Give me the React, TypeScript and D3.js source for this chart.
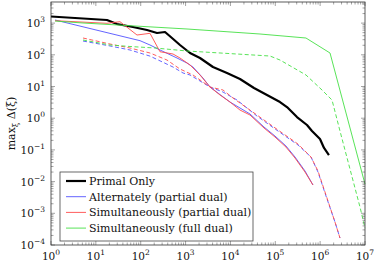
import React from 'react'
import * as d3 from 'd3'

// values (x = iterations, y = max gap)
const primalOnly: [number, number][] = [
  [1, 1615], [17.7, 1253], [29.6, 938], [67, 753], [138, 606], [231, 488],
  [348, 524], [498, 339], [751, 204], [1256, 114], [2096, 79.3], [4083, 41.2],
  [8380, 26.7], [16330, 17.3], [33500, 8.97], [65300, 5.4], [127400, 3.24],
  [182400, 2.25], [304600, 1.09], [509000, 0.61], [658000, 0.394],
  [992000, 0.221], [1.22e6, 0.115], [1.57e6, 0.069],
]

const alternatePartial: [number, number][] = [
  [1.23, 1253], [96.4, 279], [161, 204], [269, 142], [644, 79.3], [1076, 55.1],
  [1463, 41.2], [2445, 18.5], [3501, 9.64], [9772, 3.24], [27300, 1.36],
  [56000, 0.527], [98400, 0.274], [173000, 0.133], [275000, 0.0597],
  [459600, 0.0216], [692000, 0.00781],
]

const simultPartial: [number, number][] = [
  [1.23, 1191], [17.7, 986], [34.5, 1107], [82.6, 421], [161, 477], [269, 125],
  [525, 106], [751, 79.3], [1256, 47.6], [2096, 23.1], [3501, 9.64],
  [5853, 5.4], [9772, 3.24], [16330, 1.81], [27300, 1.26], [56000, 0.491],
  [98400, 0.255], [173000, 0.123], [275000, 0.0555], [459600, 0.0201],
  [692000, 0.00781],
]

const simultFull: [number, number][] = [
  [1.23, 1164], [5.17, 1007], [1076, 652], [45600, 453], [483000, 339],
  [1.66e6, 114], [1e7, 0.0083],
]

const alternatePartialDashed: [number, number][] = [
  [5.17, 272], [20.7, 190], [57.7, 142], [161, 91], [525, 41.2], [877, 26.7],
  [1256, 23.1], [3501, 9.64], [6827, 6.7], [14000, 3.75], [39100, 1.17],
  [115000, 0.394], [320900, 0.143], [625000, 0.0597], [895000, 0.0201],
  [1.35e6, 0.00352], [2.14e6, 5.32e-4], [2.77e6, 1.66e-4],
]

const simultPartialDashed: [number, number][] = [
  [5.17, 339], [20.7, 219], [57.7, 164], [161, 114], [385, 68.5], [751, 35.6],
  [1463, 23.1], [3501, 9.64], [6827, 7.76], [11400, 4.34], [23400, 2.1],
  [39100, 1.26], [115000, 0.425], [320900, 0.153], [625000, 0.0597],
  [895000, 0.0216], [1.35e6, 0.00378], [2.14e6, 5.32e-4], [2.77e6, 1.66e-4],
]

const simultFullDashed: [number, number][] = [
  [5.17, 293], [20.7, 204], [57.7, 183], [208, 164], [1076, 132], [76200, 91.6],
  [127400, 68.5], [483000, 23.1], [1.1e6, 7.76], [1.84e6, 3.75],
  [2.77e6, 0.394], [7.73e6, 0.00158], [1e7, 3.4e-4],
]

const legendLabels = [
  'Primal Only',
  'Alternately (partial dual)',
  'Simultaneously (partial dual)',
  'Simultaneously (full dual)',
]

const BLUE = '#5252ff'
const RED = '#ff4a4a'
const GREEN = '#45e045'

const series = [
  { data: primalOnly, color: '#000', width: 2.2, dash: undefined },
  { data: alternatePartial, color: BLUE, width: 0.9, dash: undefined },
  { data: simultPartial, color: RED, width: 0.9, dash: undefined },
  { data: simultFull, color: GREEN, width: 0.9, dash: undefined },
  { data: alternatePartialDashed, color: BLUE, width: 0.9, dash: '4,2.5' },
  { data: simultPartialDashed, color: RED, width: 0.9, dash: '4,2.5' },
  { data: simultFullDashed, color: GREEN, width: 0.9, dash: '4,2.5' },
]

const W = 374
const H = 262
const left = 51, right = 365, top = 2, bottom = 245
const FONT = 'DejaVu Serif, Liberation Serif, serif'

const isMajor = (v: number) => Math.abs(Math.log10(v) - Math.round(Math.log10(v))) < 1e-9

const expLabel = (v: number) => {
  const e = Math.round(Math.log10(v))
  return e < 0 ? '\u2212' + Math.abs(e) : String(e)
}

export default function App() {
  const x = d3.scaleLog().domain([1, 1e7]).range([left, right])
  const y = d3.scaleLog().domain([1e-4, Math.pow(10, 3.666)]).range([bottom, top])

  const line = d3.line<[number, number]>().x(d => x(d[0])).y(d => y(d[1]))

  const xTicks = x.ticks()
  const yTicks = y.ticks()

  const tickColor = '#666'

  return (
    <svg width={W} height={H} style={{ position: 'absolute', left: 0, top: 0 }} fontFamily={FONT}>
      <rect width={W} height={H} fill="#fff" />

      {series.map((s, i) => (
        <path key={i} d={line(s.data) || ''} fill="none" stroke={s.color}
          strokeWidth={s.width} strokeDasharray={s.dash} strokeLinejoin="round" />
      ))}

      {/* ticks on all four sides, pointing inward */}
      {xTicks.map((t, i) => {
        const len = isMajor(t) ? 4 : 2.5
        const px = x(t)
        return (
          <g key={'xt' + i} stroke={tickColor} strokeWidth={0.6}>
            <line x1={px} x2={px} y1={bottom} y2={bottom - len} />
            <line x1={px} x2={px} y1={top} y2={top + len} />
          </g>
        )
      })}
      {yTicks.map((t, i) => {
        const len = isMajor(t) ? 4 : 2.5
        const py = y(t)
        return (
          <g key={'yt' + i} stroke={tickColor} strokeWidth={0.6}>
            <line x1={left} x2={left + len} y1={py} y2={py} />
            <line x1={right} x2={right - len} y1={py} y2={py} />
          </g>
        )
      })}

      <rect x={left} y={top} width={right - left} height={bottom - top}
        fill="none" stroke="#333" strokeWidth={0.8} />

      {xTicks.filter(isMajor).map((t, i) => (
        <text key={'xl' + i} x={x(t)} y={260} textAnchor="middle" fontSize={10.5} fill="#111">
          10<tspan dy={-5} fontSize={7.5}>{expLabel(t)}</tspan>
        </text>
      ))}
      {yTicks.filter(isMajor).map((t, i) => (
        <text key={'yl' + i} x={45} y={y(t) + 4} textAnchor="end" fontSize={10.5} fill="#111">
          10<tspan dy={-5} fontSize={7.5}>{expLabel(t)}</tspan>
        </text>
      ))}

      <text transform={`translate(15,${(top + bottom) / 2}) rotate(-90)`} textAnchor="middle"
        fontSize={11} fill="#111">
        max<tspan dy={3} fontSize={8}>ξ</tspan><tspan dy={-3}> Δ(ξ)</tspan>
      </text>

      {/* legend */}
      <g>
        <rect x={60} y={172} width={193} height={69} fill="#fff" stroke="#444" strokeWidth={0.8} />
        {legendLabels.map((label, i) => {
          const cy = 181 + i * 15.7
          const s = series[i]
          return (
            <g key={'lg' + i}>
              <line x1={66} x2={86} y1={cy} y2={cy} stroke={s.color} strokeWidth={s.width} />
              <text x={89} y={cy + 4} fontSize={11} fill="#111">{label}</text>
            </g>
          )
        })}
      </g>
    </svg>
  )
}
